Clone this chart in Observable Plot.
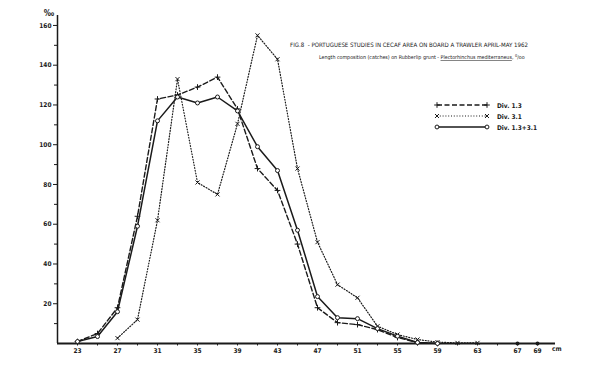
<!DOCTYPE html>
<html><head><meta charset="utf-8">
<script src="https://cdn.jsdelivr.net/npm/d3@7"></script>
<script src="https://cdn.jsdelivr.net/npm/@observablehq/plot@0.6"></script>
<style>
body{margin:0;background:#fff;}
svg{display:block;}
</style></head>
<body><div id="chart"></div>
<script>
const lengths = [23,25,27,29,31,33,35,37,39,41,43,45,47,49,51,53,55,57,59,61,63];
const div13   = [1,5,18,64,123,125,129,134,118,88,77,50,18,10.5,9.5,7,3,0.5,0,null,null];
const div31   = [null,null,2.7,12,62,133,81,75,110.5,155,143,88,51,29.6,23,8.7,4.5,2,0.7,0.3,0.3];
const divAll  = [1,3.5,16,59,112,124,121,124,117,99,87,57,23.6,13,12.5,7.5,3.7,0.5,0,null,null];
const extraLengths = [67,69];
const extraValues = [0,0];
const xLabelTicks = [23,27,31,35,39,43,47,51,55,59,63,67,69];
const xMinorTicks = d3.range(23,70,2);
const yLabelTicks = [20,40,60,80,100,120,140,160];
const yMinorTicks = [10,30,50,70,90,110,130,150];
const seriesNames = ["Div. 1.3","Div. 3.1","Div. 1.3+3.1"];
const titleText = "FIG.8  - PORTUGUESE STUDIES IN CECAF AREA ON BOARD A TRAWLER APRIL-MAY 1962";

const series = [
  {name: seriesNames[0], values: div13, dash: "5,2.5", width: 1.4, symbol: "plus"},
  {name: seriesNames[1], values: div31, dash: "1,1.8", width: 1.2, symbol: "times"},
  {name: seriesNames[2], values: divAll, dash: null, width: 1.5, symbol: "circle"}
];
const rows = s => lengths.map((L,i)=>({L, v: s.values[i]})).filter(d=>d.v!=null);
const ink = "#1a1a1a";
const font = "'DejaVu Sans Condensed','DejaVu Sans',sans-serif";

const marks = [
  Plot.axisY({ticks: yLabelTicks, tickSize: 4, fontSize: 6.5, fontWeight: "bold", label: null, stroke: ink, color: ink, tickPadding: 2}),
  Plot.axisY({ticks: yMinorTicks, tickSize: 3, tickFormat: () => "", label: null, stroke: ink}),
  Plot.axisX({ticks: xLabelTicks, tickSize: 0, fontSize: 6.5, fontWeight: "bold", label: null, color: ink, tickPadding: 5}),
  Plot.axisX({ticks: xMinorTicks, tickSize: 2.5, tickFormat: () => "", label: null, stroke: ink}),
  Plot.ruleY([0], {stroke: ink, strokeWidth: 2}),
  Plot.ruleX([21], {stroke: ink, strokeWidth: 1.5})
];
for (const s of series) {
  marks.push(Plot.line(rows(s), {x: "L", y: "v", stroke: ink, strokeWidth: s.width, strokeDasharray: s.dash}));
  marks.push(Plot.dot(rows(s), {x: "L", y: "v", symbol: s.symbol, r: 2, stroke: ink, strokeWidth: 1, fill: s.symbol === "circle" ? "white" : "none"}));
}
marks.push(Plot.dot(extraLengths.map((L,i)=>({L, v: extraValues[i]})), {x: "L", y: "v", r: 2, fill: ink}));

const chart = Plot.plot({
  width: 600, height: 377,
  marginLeft: 57, marginRight: 45, marginTop: 15, marginBottom: 34,
  style: {fontFamily: font, background: "#fff"},
  x: {domain: [21, 70.8]},
  y: {domain: [0, 165]},
  marks
});
document.getElementById("chart").appendChild(chart);

const svg = d3.select(chart);
const ov = svg.append("g").attr("text-anchor", "start").attr("font-family", font).attr("fill", ink);
// unit labels
ov.append("text").attr("x", 49).attr("y", 16).attr("font-size", 8).attr("font-weight", "bold")
  .attr("text-anchor","middle").text("‰");
ov.append("text").attr("x", 552).attr("y", 351).attr("font-size", 6.5).attr("font-weight","bold").text("cm");
// title
ov.append("text").attr("x", 290).attr("y", 47).attr("font-size", 6)
  .attr("textLength", 238).attr("lengthAdjust","spacingAndGlyphs").text(titleText);
const sub = ov.append("text").attr("x", 319).attr("y", 59).attr("font-size", 5.3);
sub.append("tspan").text("Length composition (catches) on Rubberlip grunt - ");
sub.append("tspan").attr("text-decoration","underline").text("Plectorhinchus mediterraneus");
sub.append("tspan").text(", ");
sub.append("tspan").attr("font-size", 4).attr("dy", -2.5).text("0");
sub.append("tspan").attr("dy", 2.5).text("/oo");

// legend
const lg = svg.append("g").attr("stroke", ink).attr("fill","none");
const legY = [105, 116, 127];
series.forEach((s, i) => {
  const y = legY[i], x0 = 437, x1 = 487;
  lg.append("line").attr("x1", x0).attr("x2", x1).attr("y1", y).attr("y2", y)
    .attr("stroke-width", s.width).attr("stroke-dasharray", s.dash);
  const sym = d3.symbol(s.symbol === "plus" ? d3.symbolPlus : s.symbol === "times" ? d3.symbolTimes : d3.symbolCircle, 12);
  [x0, x1].forEach(x => lg.append("path").attr("d", sym()).attr("transform", `translate(${x},${y})`)
    .attr("fill", s.symbol === "circle" ? "white" : "none").attr("stroke-width", 1));
  ov.append("text").attr("x", 497).attr("y", y + 2.5).attr("font-size", 6.5).attr("font-weight","bold")
    .text(s.name);
});
</script></body></html>
